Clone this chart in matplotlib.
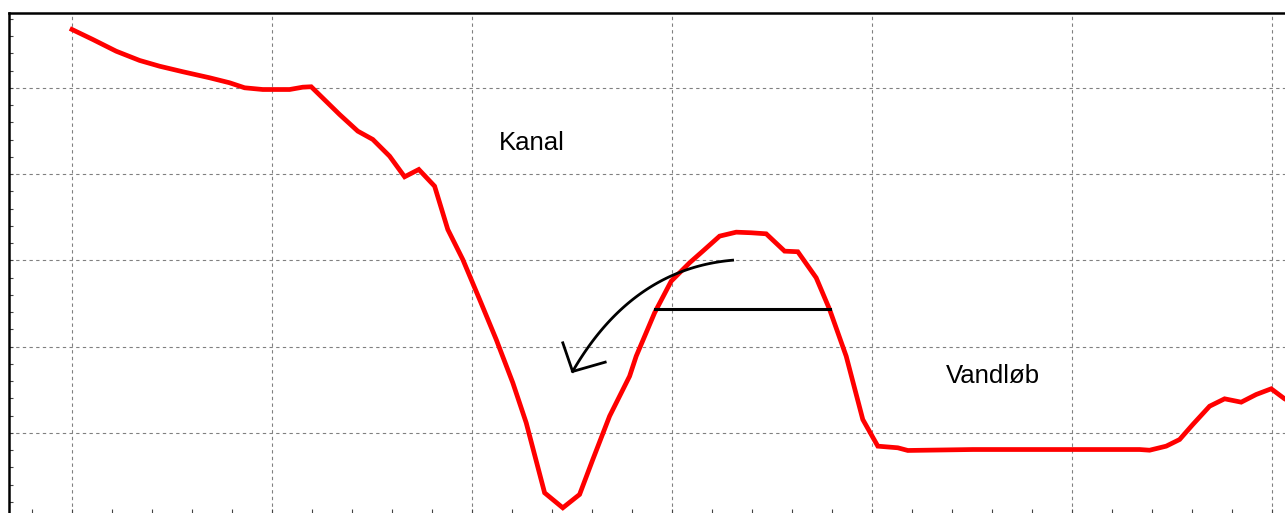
import matplotlib
matplotlib.use("Agg")
import matplotlib.pyplot as plt
import numpy as np
from matplotlib.ticker import MultipleLocator, NullFormatter

# profile of the terrain (distance, level)
dist = [0.0, 1.04, 2.21, 3.38, 4.38, 5.54, 6.88, 7.88, 8.63, 9.54, 10.88, 11.54, 11.96,
        13.38, 14.29, 15.04, 15.88, 16.63, 17.34, 18.13, 18.79, 19.54, 20.38, 21.21,
        22.04, 22.71, 23.63, 24.54, 25.38, 26.04, 26.88, 27.88, 28.21, 29.13, 29.96,
        30.88, 31.54, 32.38, 33.21, 33.96, 34.71, 35.63, 36.29, 37.21, 37.88, 38.71,
        39.54, 40.29, 41.29, 41.79, 45.04, 53.38, 53.88, 54.71, 55.38, 56.04, 56.88,
        57.63, 58.46, 59.21, 59.96, 60.63, 61.0]
level = [4.676, 4.560, 4.424, 4.317, 4.250, 4.186, 4.116, 4.058, 4.000, 3.980, 3.980,
         4.007, 4.012, 3.690, 3.497, 3.401, 3.207, 2.968, 3.053, 2.859, 2.357, 2.009,
         1.546, 1.082, 0.580, 0.116, -0.696, -0.870, -0.715, -0.310, 0.193, 0.656,
         0.888, 1.391, 1.758, 1.971, 2.106, 2.280, 2.326, 2.319, 2.307, 2.106, 2.099,
         1.797, 1.430, 0.888, 0.154, -0.155, -0.174, -0.205, -0.194, -0.194, -0.202,
         -0.155, -0.078, 0.096, 0.308, 0.394, 0.355, 0.444, 0.510, 0.394, 0.35]

# hand drawn marks
bar_x = [29.13, 37.88]
bar_y = [1.430, 1.430]
arc_ctrl_x = [33.03, 28.0, 25.03]   # start, bend, tip
arc_ctrl_y = [2.001, 1.90, 0.711]
head_x = [24.54, 25.03, 26.66]
head_y = [1.043, 0.711, 0.819]

labels = [("Kanal", 22.98, 3.354), ("Vandløb", 46.03, 0.664)]

W, H = 1285, 513
fig = plt.figure(figsize=(W / 100, H / 100), dpi=100)
ax = fig.add_axes([9 / W, 0, 1 - 9 / W, (H - 13) / H])

ax.plot(dist, level, color="#ff0000", linewidth=3.4, solid_joinstyle="miter", zorder=3)
ax.plot(bar_x, bar_y, color="black", linewidth=2.2, zorder=4)

# quadratic curve for the arrow shaft
t = np.linspace(0, 1, 60)
arc_x = (1 - t) ** 2 * arc_ctrl_x[0] + 2 * (1 - t) * t * arc_ctrl_x[1] + t ** 2 * arc_ctrl_x[2]
arc_y = (1 - t) ** 2 * arc_ctrl_y[0] + 2 * (1 - t) * t * arc_ctrl_y[1] + t ** 2 * arc_ctrl_y[2]
ax.plot(arc_x, arc_y, color="black", linewidth=2.0, zorder=4)
ax.plot(head_x, head_y, color="black", linewidth=2.0, zorder=4)

for txt, x, y in labels:
    ax.text(x, y, txt, fontsize=18.5, family="Liberation Sans", ha="center", va="center")

ax.set_xlim(-3.15, 60.65)
ax.set_ylim(-0.93, 4.867)

ax.xaxis.set_major_locator(MultipleLocator(10))
ax.xaxis.set_minor_locator(MultipleLocator(2))
ax.yaxis.set_major_locator(MultipleLocator(1))
ax.yaxis.set_minor_locator(MultipleLocator(0.2))
ax.xaxis.set_major_formatter(NullFormatter())
ax.yaxis.set_major_formatter(NullFormatter())
ax.tick_params(which="both", direction="in", length=3, width=0.8, color="#444444")

ax.grid(True, which="major", color="#808080", linestyle=(0, (3, 3)), linewidth=0.8)

for side in ["right", "bottom"]:
    ax.spines[side].set_visible(False)
for side in ["left", "top"]:
    ax.spines[side].set_linewidth(1.8)
    ax.spines[side].set_color("black")

fig.savefig("out.png", dpi=100)
